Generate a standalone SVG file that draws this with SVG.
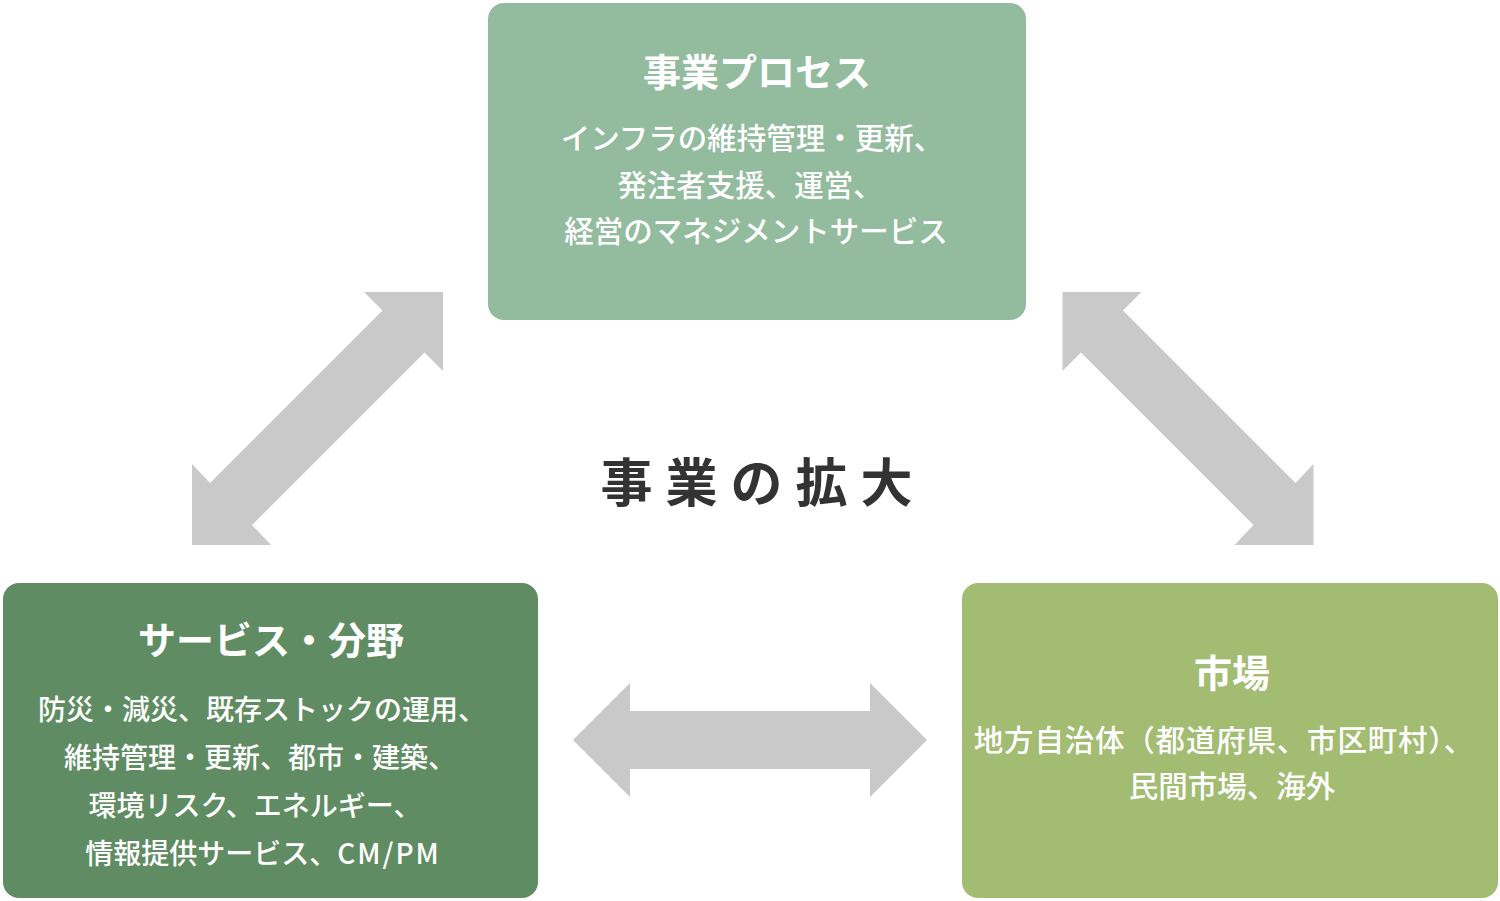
<svg xmlns="http://www.w3.org/2000/svg" width="1500" height="901" viewBox="0 0 1500 901">
<style>
.t{font-family:"Noto Sans CJK JP","Noto Sans",sans-serif;fill:#ffffff;text-anchor:middle}
.h{font-size:38px;font-weight:700}
.b{font-size:28px;font-weight:500}
.b2{font-size:29.5px;font-weight:500}
.c{font-family:"Noto Sans CJK JP","Noto Sans",sans-serif;fill:#333333;font-size:52px;font-weight:700;text-anchor:middle;letter-spacing:13px}
.arr{fill:#c9c9c9}
</style>
<rect width="1500" height="901" fill="#ffffff"/>
<g id="connectors">
<polygon class="arr" points="443,292 443,371 424.5,352.5 252,525 271,545 192,545 192,464 210,483 382.5,310.5 364,292"/>
<polygon class="arr" transform="translate(1505.5,0) scale(-1,1)" points="443,292 443,371 424.5,352.5 252,525 271,545 192,545 192,464 210,483 382.5,310.5 364,292"/>
<polygon class="arr" points="573,740 630,683 630,711 870,711 870,683 927,740 870,797 870,769 630,769 630,797"/>
</g>
<g id="node-process">
<rect x="488" y="3" width="538" height="317" rx="16" fill="#93bb9e"/>
<text class="t h" x="757" y="86">事業プロセス</text>
<text class="t b2" x="752" y="149">インフラの維持管理・更新、</text>
<text class="t b2" x="750" y="196">発注者支援、運営、</text>
<text class="t b2" x="756" y="242">経営のマネジメントサービス</text>
</g>
<g id="node-service">
<rect x="3" y="583" width="535" height="315" rx="16" fill="#5f8c62"/>
<text class="t h" x="271" y="654">サービス・分野</text>
<text class="t b" x="262" y="720">防災・減災、既存ストックの運用、</text>
<text class="t b" x="260" y="768">維持管理・更新、都市・建築、</text>
<text class="t b" x="255" y="816">環境リスク、エネルギー、</text>
<text class="t b" x="263" y="864">情報提供サービス、<tspan letter-spacing="2">CM/PM</tspan></text>
</g>
<g id="node-market">
<rect x="962" y="583" width="536" height="315" rx="16" fill="#a2bc72"/>
<text class="t h" x="1232" y="687">市場</text>
<text class="t b2" x="1224" y="751" letter-spacing="0.8">地方自治体（都道府県、市区町村）、</text>
<text class="t b2" x="1232" y="797">民間市場、海外</text>
</g>
<g id="center-label">
<text class="c" x="763" y="502">事業の拡大</text>
</g>
</svg>
